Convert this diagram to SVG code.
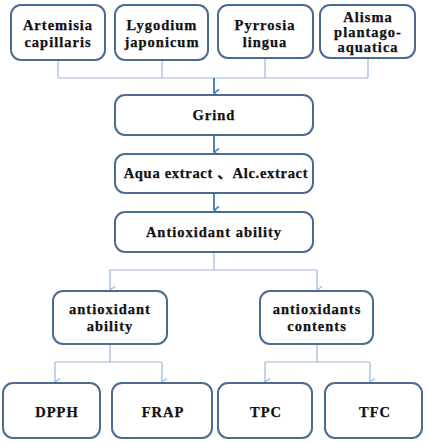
<svg xmlns="http://www.w3.org/2000/svg" width="427" height="442" viewBox="0 0 427 442">
<style>
.box{fill:#fff;stroke:#4a6b92;stroke-width:2}
.ln{fill:none;stroke:#9db6d6;stroke-width:1.2}
.mn{fill:none;stroke:#4f81bd;stroke-width:2}
</style>
<defs>
<marker id="ah" markerWidth="8" markerHeight="8" refX="4" refY="7" orient="auto" markerUnits="userSpaceOnUse" viewBox="0 0 8 8">
<path d="M0.5,2 L4,7 L7.5,2" fill="none" stroke="#4f81bd" stroke-width="1.6"/>
</marker>
<marker id="al" markerWidth="8" markerHeight="8" refX="4" refY="7" orient="auto" markerUnits="userSpaceOnUse" viewBox="0 0 8 8">
<path d="M0.5,2 L4,7 L7.5,2" fill="none" stroke="#9db6d6" stroke-width="1.2"/>
</marker>
</defs>
<g id="connectors">
<path class="ln" d="M58,60 V78 M162,60 V78 M265,58 V78 M368,58 V78 M58,78 H368"/>
<path class="mn" d="M214,78 V93" marker-end="url(#ah)"/>
<path class="mn" d="M214,135 V152" marker-end="url(#ah)"/>
<path class="mn" d="M214,193 V210" marker-end="url(#ah)"/>
<path class="ln" d="M214,252 V270 M110,270 H317"/>
<path class="ln" d="M110,270 V290" marker-end="url(#al)"/>
<path class="ln" d="M317,270 V290" marker-end="url(#al)"/>
<path class="ln" d="M110,344 V362 M55,362 H162 M317,344 V362 M265,362 H370"/>
<path class="ln" d="M55,362 V382" marker-end="url(#al)"/>
<path class="ln" d="M162,362 V382" marker-end="url(#al)"/>
<path class="ln" d="M265,362 V382" marker-end="url(#al)"/>
<path class="ln" d="M370,362 V382" marker-end="url(#al)"/>
</g>
<g font-family="Liberation Serif, Times New Roman, serif" font-weight="bold" font-size="14.5" fill="#111" stroke="#111" stroke-width="0.25" text-anchor="middle" letter-spacing="1">
<g id="artemisia"><rect class="box" x="11" y="5" width="94" height="55" rx="10"/><text x="58" y="30">Artemisia</text><text x="58" y="47">capillaris</text></g>
<g id="lygodium"><rect class="box" x="115" y="5" width="93" height="55" rx="10"/><text x="162" y="30">Lygodium</text><text x="162" y="47">japonicum</text></g>
<g id="pyrrosia"><rect class="box" x="218" y="5" width="95" height="53" rx="10"/><text x="265" y="30">Pyrrosia</text><text x="265" y="47">lingua</text></g>
<g id="alisma"><rect class="box" x="320" y="5" width="95" height="53" rx="10"/><text x="368" y="22">Alisma</text><text x="368" y="37">plantago-</text><text x="368" y="52">aquatica</text></g>
<g id="grind"><rect class="box" x="115" y="95" width="198" height="40" rx="10"/><text x="214" y="120">Grind</text></g>
<g id="extract"><rect class="box" x="115" y="154" width="198" height="39" rx="10"/><text x="216" y="178" letter-spacing="0.7">Aqua extract <tspan font-family="Noto Sans CJK SC, sans-serif">、</tspan>Alc.extract</text></g>
<g id="antioxidant-ability-main"><rect class="box" x="115" y="212" width="198" height="40" rx="10"/><text x="214" y="237">Antioxidant ability</text></g>
<g id="antioxidant-ability"><rect class="box" x="53" y="291" width="114" height="53" rx="10"/><text x="110" y="314">antioxidant</text><text x="110" y="331">ability</text></g>
<g id="antioxidants-contents"><rect class="box" x="260" y="291" width="113" height="53" rx="10"/><text x="317" y="314">antioxidants</text><text x="317" y="331">contents</text></g>
<g id="dpph"><rect class="box" x="3" y="383" width="97" height="55" rx="10"/><text x="57" y="417">DPPH</text></g>
<g id="frap"><rect class="box" x="112" y="383" width="100" height="55" rx="10"/><text x="163" y="417">FRAP</text></g>
<g id="tpc"><rect class="box" x="218" y="383" width="94" height="55" rx="10"/><text x="266" y="417">TPC</text></g>
<g id="tfc"><rect class="box" x="325" y="383" width="97" height="55" rx="10"/><text x="375" y="417">TFC</text></g>
</g>
</svg>
